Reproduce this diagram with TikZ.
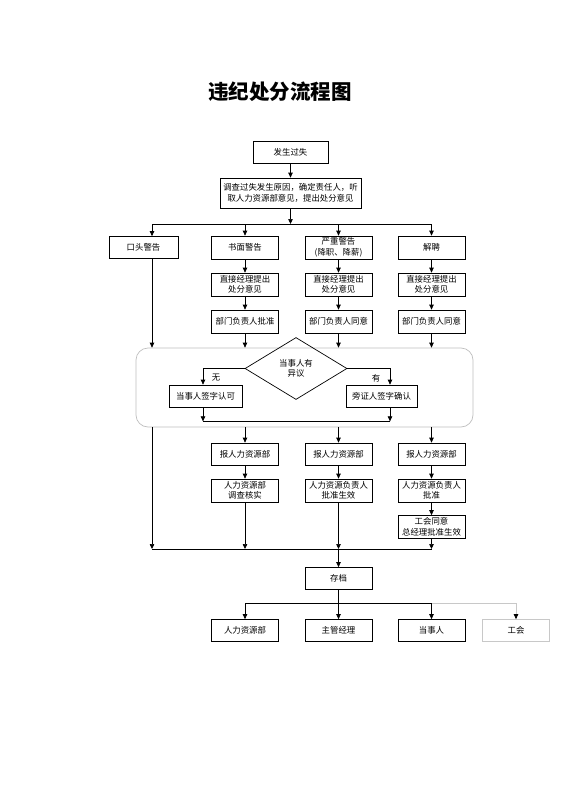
\documentclass[tikz,border=0pt]{standalone}
\usepackage{fontspec}
\setmainfont{Noto Sans CJK SC}
\usetikzlibrary{arrows.meta,shapes.geometric,calc}
\definecolor{framegray}{HTML}{BFBFBF}
\definecolor{lightgray2}{HTML}{C8C8C8}
\begin{document}
\begin{tikzpicture}[x=1pt,y=-1pt,
  box/.style={draw=black,line width=0.7pt,minimum width=67pt,minimum height=23pt,inner sep=1pt,align=center,font=\fontsize{8.4}{10.5}\selectfont},
  graybox/.style={box,draw=lightgray2},
  arr/.style={-{Triangle[length=5pt,width=4.5pt]},line width=0.7pt},
  ln/.style={line width=0.7pt},
  lbl/.style={font=\fontsize{8.4}{10}\selectfont,inner sep=0pt},
  dec/.style={draw=black,line width=0.7pt,shape=diamond,minimum width=102pt,minimum height=62pt,inner sep=0pt,align=center,font=\fontsize{8.4}{10.5}\selectfont},
  frame/.style={draw=framegray,line width=0.7pt,rounded corners=12pt,minimum width=337pt,minimum height=79pt,inner sep=0pt}
]
\useasboundingbox (0,0) rectangle (560,792);

\node[font=\fontsize{20.5}{24}\selectfont\bfseries] (title) at (280,92) {违纪处分流程图};

% top
\node[box,minimum width=75pt,minimum height=22pt] (a) at (290.5,152) {发生过失};
\node[box,minimum width=141pt,minimum height=30pt] (b) at (290.5,193) {调查过失发生原因，确定责任人，听\\取人力资源部意见，提出处分意见};

% row c
\node[box,minimum width=69pt,minimum height=22pt] (c1) at (143.5,247.5) {口头警告};
\node[box] (c2) at (245,247.5) {书面警告};
\node[box] (c3) at (338.5,247.5) {严重警告\\(降职、降薪)};
\node[box] (c4) at (431.5,247.5) {解聘};

% row d
\node[box] (d2) at (245,284.5) {直接经理提出\\处分意见};
\node[box] (d3) at (338.5,284.5) {直接经理提出\\处分意见};
\node[box] (d4) at (431.5,284.5) {直接经理提出\\处分意见};

% row e
\node[box] (e2) at (245,321.5) {部门负责人批准};
\node[box] (e3) at (338.5,321.5) {部门负责人同意};
\node[box] (e4) at (431.5,321.5) {部门负责人同意};

% frame and decision
\node[frame] (fr) at (304.5,387.5) {};
\node[dec] (q) at (296,368.5) {当事人有\\异议};
\node[box,minimum width=73pt,minimum height=22pt] (f1) at (205.5,396) {当事人签字认可};
\node[box,minimum width=71pt,minimum height=22pt] (f2) at (381.5,396) {旁证人签字确认};
\node[lbl] (no) at (216,378) {无};
\node[lbl] (yes) at (376,378) {有};

% rows g, h, i
\node[box,minimum height=22pt] (g2) at (245,454) {报人力资源部};
\node[box,minimum height=22pt] (g3) at (338.5,454) {报人力资源部};
\node[box,minimum height=22pt] (g4) at (431.5,454) {报人力资源部};
\node[box] (h2) at (245,490.5) {人力资源部\\调查核实};
\node[box] (h3) at (338.5,490.5) {人力资源负责人\\批准生效};
\node[box] (h4) at (431.5,490.5) {人力资源负责人\\批准};
\node[box] (i4) at (431.5,527) {工会同意\\总经理批准生效};

% archive
\node[box,minimum height=22pt] (k) at (338.5,578.5) {存档};
\node[box,minimum height=22pt] (m1) at (245,630.5) {人力资源部};
\node[box,minimum height=22pt] (m2) at (338.5,630.5) {主管经理};
\node[box,minimum height=22pt] (m3) at (431.5,630.5) {当事人};
\node[graybox,minimum height=22pt] (m4) at (516,630.5) {工会};

% coordinates
\coordinate (s1) at (290.5,224);
\coordinate (s1l) at (152,224);
\coordinate (s1r) at (431.5,224);
\coordinate (j1) at (152,549);
\coordinate (j4) at (431.5,549);
\coordinate (j3) at (338.5,549);
\coordinate (p3) at (338.5,603);
\coordinate (p1) at (245,603);
\coordinate (p4) at (431.5,603);
\coordinate (p5) at (516,603);
\coordinate (f1in) at ($(f1.north)+(-2.5,0)$);
\coordinate (f2in) at ($(f2.north)+(8.5,0)$);
\coordinate (f1out) at ($(f1.south)+(-2.5,0)$);
\coordinate (f2out) at ($(f2.south)+(8.5,0)$);
\coordinate (u1) at ($(f1out)+(0,14)$);
\coordinate (u2) at ($(f2out)+(0,14)$);

% connectors top
\draw[arr] (a) -- (b);
\draw[arr] (b) -- (s1);
\draw[ln] (s1l) -- (s1r);
\draw[arr] (s1l) -- (s1l |- c1.north);
\draw[arr] (s1l -| c2) -- (c2.north);
\draw[arr] (s1l -| c3) -- (c3.north);
\draw[arr] (s1r) -- (c4.north);

\draw[arr] (c2) -- (d2);
\draw[arr] (c3) -- (d3);
\draw[arr] (c4) -- (d4);
\draw[arr] (d2) -- (e2);
\draw[arr] (d3) -- (e3);
\draw[arr] (d4) -- (e4);

\draw[arr] (c1.south -| s1l) -- (s1l |- fr.north);
\draw[arr] (e2.south) -- (e2.south |- fr.north);
\draw[arr] (e3.south) -- (e3.south |- fr.north);
\draw[arr] (e4.south) -- (e4.south |- fr.north);

% decision
\draw[arr] (q.west) -| (f1in);
\draw[arr] (q.east) -| (f2in);
\draw[arr] (f1out) -- (u1);
\draw[arr] (f2out) -- (u2);
\draw[ln] (u1) -- (u2);

% below frame
\draw[arr] (s1l |- fr.south) -- (j1);
\draw[arr] (g2 |- fr.south) -- (g2.north);
\draw[arr] (g3 |- fr.south) -- (g3.north);
\draw[arr] (g4 |- fr.south) -- (g4.north);
\draw[arr] (g2) -- (h2);
\draw[arr] (g3) -- (h3);
\draw[arr] (g4) -- (h4);
\draw[arr] (h4) -- (i4);
\draw[arr] (h2.south) -- (h2.south |- j1);
\draw[arr] (h3.south) -- (j3);
\draw[arr] (i4.south) -- (j4);
\draw[ln] (j1) -- (j4);
\draw[arr] (j3) -- (k.north);

% distribution
\draw[ln] (k.south) -- (p3);
\draw[ln] (p1) -- (p4);
\draw[ln,draw=lightgray2] (p4) -- (p5);
\draw[arr] (p1) -- (m1.north);
\draw[arr] (p3) -- (m2.north);
\draw[arr] (p4) -- (m3.north);
\draw[ln,draw=lightgray2,-{Triangle[length=5pt,width=4.5pt,color=black,fill=black]}] (p5) -- (m4.north);
\end{tikzpicture}
\end{document}
